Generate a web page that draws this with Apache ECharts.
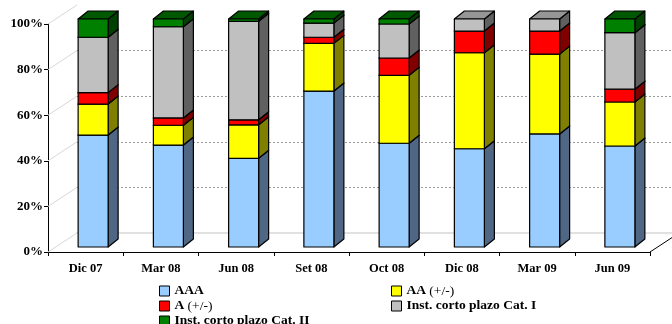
<!DOCTYPE html>
<html lang="es">
<head>
    <meta charset="UTF-8">
    <title>Cartera por calificación</title>
    <script src="https://cdn.jsdelivr.net/npm/echarts@6/dist/echarts.min.js"></script>
    <style type="text/css">
        body{ margin:0; background:#fff; }
    </style>
</head>
<body>
<div id="main" style="width: 672px;height:324px;"></div>
<script type="text/javascript">
    // datos (% de la cartera)
    var categorias = ['Dic 07', 'Mar 08', 'Jun 08', 'Set 08', 'Oct 08', 'Dic 08', 'Mar 09', 'Jun 09'];
    var aaa     = [49.1, 44.7, 38.9, 68.4, 45.5, 43.1, 49.6, 44.3];
    var aa      = [13.6,  8.7, 14.7, 20.9, 29.8, 42.1, 35.0, 19.3];
    var a       = [ 5.0,  3.2,  2.2,  2.7,  7.6,  9.5, 10.1,  5.6];
    var catI    = [24.3, 40.0, 43.2,  6.2, 14.9,  5.3,  5.3, 24.8];
    var catII   = [ 8.0,  3.4,  1.0,  1.8,  2.2,  0.0,  0.0,  6.0];
    var ticksY  = [0, 20, 40, 60, 80, 100];

    var nombres = ['AAA', 'AA (+/-)', 'A (+/-)', 'Inst. corto plazo Cat. I', 'Inst. corto plazo Cat. II'];
    var valores = [aaa, aa, a, catI, catII];
    // color frontal, lateral, superior
    var colores = [
        ['#99CCFF', '#4F6784', '#6E8FB3'],
        ['#FFFF00', '#808000', '#B3B300'],
        ['#FF0000', '#800000', '#B30000'],
        ['#C0C0C0', '#606060', '#969696'],
        ['#008000', '#004000', '#005800']
    ];

    var FONT = '"Liberation Serif", "Times New Roman", serif';
    var BAR_W = 30;      // ancho cara frontal
    var OFF_X = 7.5, OFF_Y = -5;   // posicion de la barra en profundidad
    var DX = 10, DY = 8;           // profundidad de la barra
    var WX = 29, WY = 19;          // profundidad de la pared del fondo

    var myChart = echarts.init(document.getElementById('main'));

    function barra(idx) {
        return function (params, api) {
            var lo = api.value(1), hi = api.value(2);
            if (hi - lo <= 0) return;
            var p0 = api.coord([api.value(0), lo]);
            var p1 = api.coord([api.value(0), hi]);
            var x = p0[0] - BAR_W / 2 + OFF_X;
            var y0 = p0[1] + OFF_Y, y1 = p1[1] + OFF_Y;
            var c = colores[idx];
            var borde = {stroke: '#000', lineWidth: 1.2, lineJoin: 'round'};
            return {
                type: 'group',
                children: [
                    {type: 'polygon', shape: {points: [[x + BAR_W, y0], [x + BAR_W + DX, y0 - DY], [x + BAR_W + DX, y1 - DY], [x + BAR_W, y1]]},
                        style: echarts.util.extend({fill: c[1]}, borde)},
                    {type: 'polygon', shape: {points: [[x, y1], [x + DX, y1 - DY], [x + BAR_W + DX, y1 - DY], [x + BAR_W, y1]]},
                        style: echarts.util.extend({fill: c[2]}, borde)},
                    {type: 'rect', shape: {x: x, y: y1, width: BAR_W, height: y0 - y1},
                        style: echarts.util.extend({fill: c[0]}, borde)}
                ]
            };
        };
    }

    var series = [];
    // lineas diagonales de la pared lateral
    series.push({
        type: 'custom',
        name: 'diag',
        silent: true,
        z: 1,
        data: ticksY.map(function (v) { return [0, v]; }).concat([[7, -1]]),
        renderItem: function (params, api) {
            var r = params.coordSys;
            var v = api.value(1);
            var x = r.x, y;
            if (v < 0) { x = r.x + r.width; y = api.coord([0, 0])[1]; }
            else { y = api.coord([0, v])[1]; }
            return {type: 'line', shape: {x1: x, y1: y, x2: x + WX, y2: y - WY},
                style: {stroke: v < 0 ? '#000' : '#d8d8d8', lineWidth: 1}};
        }
    });
    var acumulado = categorias.map(function () { return 0; });
    for (var s = 0; s < valores.length; s++) {
        var datos = [];
        for (var i = 0; i < categorias.length; i++) {
            var base = acumulado[i];
            acumulado[i] += valores[s][i];
            datos.push([i, base, acumulado[i]]);
        }
        series.push({
            type: 'custom',
            name: nombres[s],
            z: 3,
            itemStyle: {color: colores[s][0]},
            encode: {x: 0, y: [1, 2]},
            data: datos,
            renderItem: barra(s)
        });
    }

    var estiloLeyenda = {
        fontFamily: FONT, fontSize: 13.5, color: '#000', fontWeight: 'bold', lineHeight: 13,
        rich: {
            b: {fontFamily: FONT, fontSize: 13.5, fontWeight: 'bold', color: '#000', lineHeight: 13},
            n: {fontFamily: FONT, fontSize: 13.5, fontWeight: 'normal', color: '#000', lineHeight: 13}
        }
    };
    function fmtLeyenda(name) {
        var k = name.indexOf(' (');
        if (k < 0) return '{b|' + name + '}';
        return '{b|' + name.substring(0, k) + '} {n|' + name.substring(k + 1) + '}';
    }
    var leyendaBase = {
        orient: 'vertical',
        icon: 'rect',
        itemWidth: 10,
        itemHeight: 10,
        itemGap: 1,
        padding: 0,
        height: 80,
        selectedMode: false,
        itemStyle: {borderColor: '#000', borderWidth: 1},
        textStyle: estiloLeyenda,
        formatter: fmtLeyenda
    };

    var option = {
        animation: false,
        backgroundColor: '#fff',
        grid: [
            {left: 48, right: 22, top: 24, bottom: 72},
            {left: 48 + WX, right: 22 - WX, top: 24 - WY, bottom: 72 + WY}
        ],
        legend: [
            echarts.util.extend({left: 159, top: 284, data: ['AAA', 'A (+/-)', 'Inst. corto plazo Cat. II']}, leyendaBase),
            echarts.util.extend({left: 391, top: 284, data: ['AA (+/-)', 'Inst. corto plazo Cat. I']}, leyendaBase)
        ],
        xAxis: [
            {
                type: 'category',
                gridIndex: 0,
                data: categorias,
                axisLine: {lineStyle: {color: '#000', width: 1}},
                axisTick: {show: true, length: 4, lineStyle: {color: '#000'}},
                axisLabel: {fontFamily: FONT, fontSize: 12.5, fontWeight: 'bold', color: '#000', margin: 10}
            },
            {
                type: 'category',
                gridIndex: 1,
                data: categorias,
                axisLine: {lineStyle: {color: '#d8d8d8', width: 1.5}},
                axisTick: {show: false},
                axisLabel: {show: false}
            }
        ],
        yAxis: [
            {
                type: 'value',
                gridIndex: 0,
                min: 0, max: 100, interval: 20,
                axisLine: {show: true, lineStyle: {color: '#000', width: 1}},
                axisTick: {show: true, length: 4, lineStyle: {color: '#000'}},
                axisLabel: {fontFamily: FONT, fontSize: 13, fontWeight: 'bold', color: '#000', margin: 5, formatter: '{value}%'},
                splitLine: {show: false}
            },
            {
                type: 'value',
                gridIndex: 1,
                min: 0, max: 100, interval: 20,
                axisLine: {show: false},
                axisTick: {show: false},
                axisLabel: {show: false},
                splitLine: {show: true, lineStyle: {
                    type: [2, 2],
                    color: ['rgba(0,0,0,0)', '#9a9a9a', '#9a9a9a', '#9a9a9a', '#9a9a9a', 'rgba(0,0,0,0)']
                }}
            }
        ],
        series: series
    };

    myChart.setOption(option);
</script>
</body>
</html>
